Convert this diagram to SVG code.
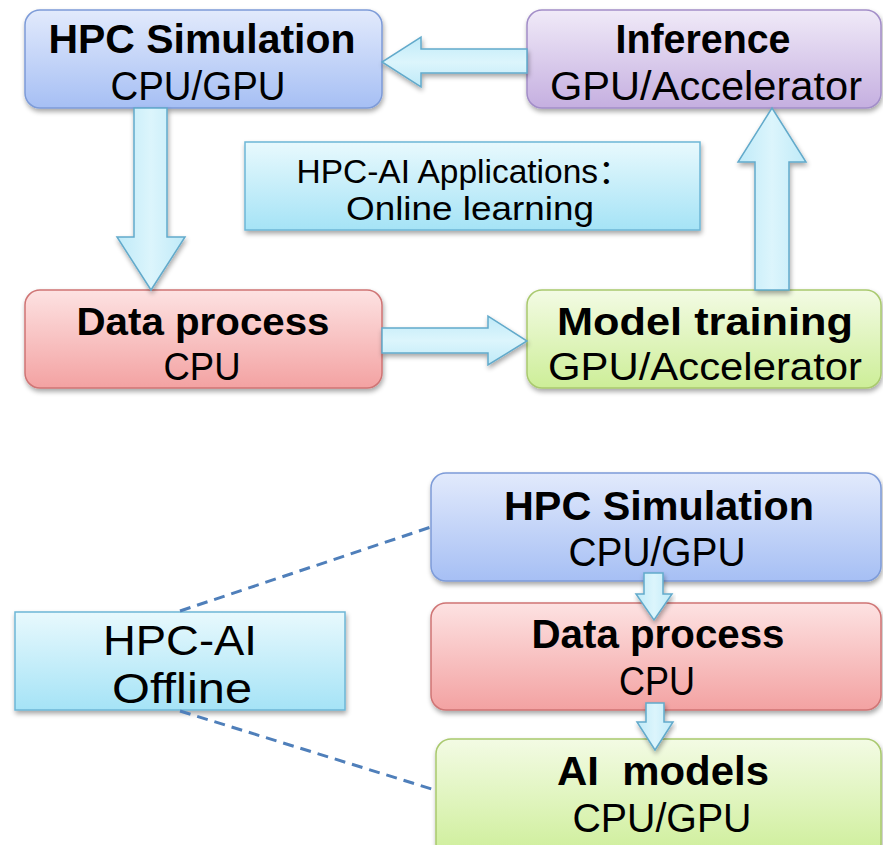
<svg xmlns="http://www.w3.org/2000/svg" width="883" height="845" viewBox="0 0 883 845">
  <defs>
    <linearGradient id="gBlue" x1="0" y1="0" x2="0" y2="1">
      <stop offset="0" stop-color="#e2eafc"/>
      <stop offset="1" stop-color="#a6bff4"/>
    </linearGradient>
    <linearGradient id="gPurple" x1="0" y1="0" x2="0" y2="1">
      <stop offset="0" stop-color="#f0eaf8"/>
      <stop offset="1" stop-color="#c5afe0"/>
    </linearGradient>
    <linearGradient id="gRed" x1="0" y1="0" x2="0" y2="1">
      <stop offset="0" stop-color="#fde2e2"/>
      <stop offset="1" stop-color="#f3a2a2"/>
    </linearGradient>
    <linearGradient id="gGreen" x1="0" y1="0" x2="0" y2="1">
      <stop offset="0" stop-color="#f3fbe4"/>
      <stop offset="1" stop-color="#cdee98"/>
    </linearGradient>
    <linearGradient id="gCyan" x1="0" y1="0" x2="0" y2="1">
      <stop offset="0" stop-color="#e8f9fd"/>
      <stop offset="1" stop-color="#a5e3f6"/>
    </linearGradient>
    <linearGradient id="gArrowV" x1="0" y1="0" x2="1" y2="0">
      <stop offset="0" stop-color="#bfeaf8"/>
      <stop offset="0.5" stop-color="#dcf5fc"/>
      <stop offset="1" stop-color="#bfeaf8"/>
    </linearGradient>
    <linearGradient id="gArrowH" x1="0" y1="0" x2="0" y2="1">
      <stop offset="0" stop-color="#bfeaf8"/>
      <stop offset="0.5" stop-color="#dcf5fc"/>
      <stop offset="1" stop-color="#bfeaf8"/>
    </linearGradient>
    <filter id="shadow" x="-10%" y="-10%" width="120%" height="130%">
      <feGaussianBlur in="SourceAlpha" stdDeviation="2.5"/>
      <feOffset dx="1" dy="3" result="b"/>
      <feComponentTransfer><feFuncA type="linear" slope="0.35"/></feComponentTransfer>
      <feMerge><feMergeNode/><feMergeNode in="SourceGraphic"/></feMerge>
    </filter>
  </defs>
  <style>
    .box { stroke-width: 1.5; filter: url(#shadow); }
    .blue { fill: url(#gBlue); stroke: #7d9bd8; }
    .purple { fill: url(#gPurple); stroke: #a28dc8; }
    .red { fill: url(#gRed); stroke: #cf7474; }
    .green { fill: url(#gGreen); stroke: #a9c96e; }
    .cyan { fill: url(#gCyan); stroke: #6db6d6; }
    .arrowV { fill: url(#gArrowV); stroke: #62aacb; stroke-width: 1.5; stroke-linejoin: miter; filter: url(#shadow); }
    .arrowH { fill: url(#gArrowH); stroke: #62aacb; stroke-width: 1.5; stroke-linejoin: miter; filter: url(#shadow); }
    .dash { stroke: #4f7fba; stroke-width: 3; stroke-dasharray: 11 7; fill: none; }
    text { font-family: "Liberation Sans", "Noto Sans CJK SC", sans-serif; fill: #000; text-anchor: middle; }
    .t { font-weight: 700; font-size: 40px; }
    .s { font-weight: 400; font-size: 40px; }
    .t2 { font-weight: 700; font-size: 39px; }
    .s2 { font-weight: 400; font-size: 39px; }
    .c { font-weight: 400; font-size: 33px; }
    .o { font-weight: 400; font-size: 42px; }
  </style>

  <g id="hpc-simulation">
    <rect class="box blue" x="25" y="10" width="357" height="98" rx="15"/>
    <text class="t" x="202" y="53" textLength="307" lengthAdjust="spacingAndGlyphs">HPC Simulation</text>
    <text class="s" x="198" y="100" textLength="175" lengthAdjust="spacingAndGlyphs">CPU/GPU</text>
  </g>

  <g id="inference">
    <rect class="box purple" x="527" y="10" width="354" height="98" rx="15"/>
    <text class="t" x="703" y="53" textLength="175" lengthAdjust="spacingAndGlyphs">Inference</text>
    <text class="s" x="706" y="100" textLength="312" lengthAdjust="spacingAndGlyphs">GPU/Accelerator</text>
  </g>

  <g id="online-label">
    <rect class="box cyan" x="245" y="142" width="455" height="88" rx="0"/>
    <text class="c" x="464" y="183" textLength="335" lengthAdjust="spacingAndGlyphs">HPC-AI Applications：</text>
    <text class="c" x="470" y="220" textLength="248" lengthAdjust="spacingAndGlyphs">Online learning</text>
  </g>

  <g id="data-process">
    <rect class="box red" x="25" y="290" width="357" height="98" rx="15"/>
    <text class="t2" x="203" y="335" textLength="253" lengthAdjust="spacingAndGlyphs">Data process</text>
    <text class="s2" x="202" y="380" textLength="77" lengthAdjust="spacingAndGlyphs">CPU</text>
  </g>

  <g id="model-training">
    <rect class="box green" x="527" y="290" width="354" height="98" rx="15"/>
    <text class="t2" x="705" y="335" textLength="296" lengthAdjust="spacingAndGlyphs">Model training</text>
    <text class="s2" x="705" y="380" textLength="314" lengthAdjust="spacingAndGlyphs">GPU/Accelerator</text>
  </g>

  <g id="offline-label">
    <rect class="box cyan" x="15" y="612" width="330" height="98" rx="0"/>
    <text class="o" x="180" y="655" textLength="154" lengthAdjust="spacingAndGlyphs">HPC-AI</text>
    <text class="o" x="182" y="703" textLength="140" lengthAdjust="spacingAndGlyphs">Offline</text>
  </g>

  <g id="offline-hpc-simulation">
    <rect class="box blue" x="431" y="473" width="450" height="108" rx="15"/>
    <text class="t" x="659" y="520" textLength="310" lengthAdjust="spacingAndGlyphs">HPC Simulation</text>
    <text class="s" x="657" y="566" textLength="177" lengthAdjust="spacingAndGlyphs">CPU/GPU</text>
  </g>

  <g id="offline-data-process">
    <rect class="box red" x="431" y="603" width="450" height="107" rx="15"/>
    <text class="t" x="658" y="648" textLength="253" lengthAdjust="spacingAndGlyphs">Data process</text>
    <text class="s" x="657" y="695" textLength="76" lengthAdjust="spacingAndGlyphs">CPU</text>
  </g>

  <g id="offline-ai-models">
    <rect class="box green" x="436" y="739" width="445" height="120" rx="15"/>
    <text class="t" x="663" y="785" textLength="212" lengthAdjust="spacingAndGlyphs" xml:space="preserve">AI  models</text>
    <text class="s" x="662" y="832" textLength="179" lengthAdjust="spacingAndGlyphs">CPU/GPU</text>
  </g>

  <!-- connectors, drawn over the boxes -->
  <g id="connectors">
    <line class="dash" x1="180" y1="611" x2="431" y2="527"/>
    <line class="dash" x1="180" y1="711" x2="435" y2="790"/>
    <!-- HPC Simulation down to Data process -->
    <polygon class="arrowV" points="134,108 167,108 167,237 185,237 151,290 117,237 134,237"/>
    <!-- Data process right to Model training -->
    <polygon class="arrowH" points="382,328 488,328 488,316 527,341 488,365 488,353 382,353"/>
    <!-- Model training up to Inference -->
    <polygon class="arrowV" points="755,290 789,290 789,162 806,162 772,108 738,162 755,162"/>
    <!-- Inference left to HPC Simulation -->
    <polygon class="arrowH" points="527,49 421,49 421,37 382,62 421,87 421,73 527,73"/>
    <!-- offline chain -->
    <polygon class="arrowV" points="644,573 663,573 663,594 672,594 654,620 636,594 644,594"/>
    <polygon class="arrowV" points="646,703 664,703 664,722 673,722 655,750 637,722 646,722"/>
  </g>
</svg>
